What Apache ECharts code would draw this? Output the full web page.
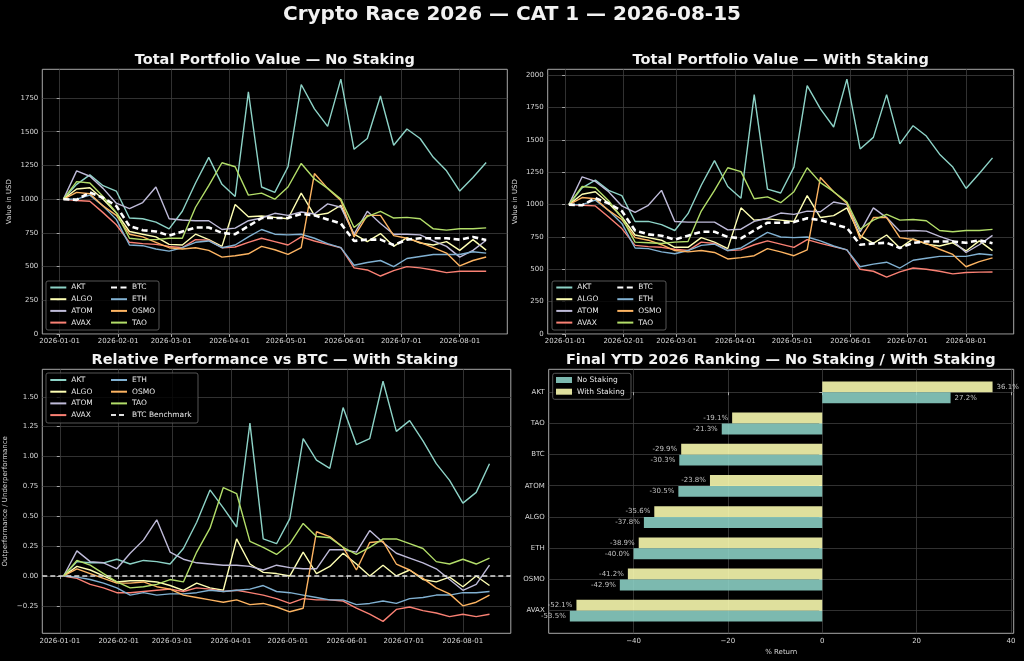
<!DOCTYPE html>
<html><head><meta charset="utf-8">
<script src="https://cdn.jsdelivr.net/npm/echarts@6/dist/echarts.min.js"></script>
<style>html,body{margin:0;padding:0;background:#000;}#c{width:1024px;height:661px;}</style>
</head><body><div id="c"></div>
<script>
// ---------- DATA ----------
const dates = ['2026-01-03','2026-01-10','2026-01-17','2026-01-24','2026-01-31','2026-02-07','2026-02-14','2026-02-21','2026-02-28','2026-03-07','2026-03-14','2026-03-21','2026-03-28','2026-04-04','2026-04-11','2026-04-18','2026-04-25','2026-05-02','2026-05-09','2026-05-16','2026-05-23','2026-05-30','2026-06-06','2026-06-13','2026-06-20','2026-06-27','2026-07-04','2026-07-11','2026-07-18','2026-07-25','2026-08-01','2026-08-08','2026-08-15'];
const monthTicks = ['2026-01-01','2026-02-01','2026-03-01','2026-04-01','2026-05-01','2026-06-01','2026-07-01','2026-08-01'];
const assets = ['AKT','ALGO','ATOM','AVAX','BTC','ETH','OSMO','TAO'];

// Total portfolio value - no staking (USD)
const AKT_NS  = [1000,1110,1180,1100,1060,860,855,830,780,910,1120,1310,1110,1020,1795,1090,1050,1240,1850,1670,1540,1890,1370,1450,1765,1400,1520,1450,1310,1210,1060,1160,1272];
const ALGO_NS = [1000,1075,1085,1000,900,760,740,720,665,660,740,700,650,960,870,875,865,855,1045,880,895,955,740,685,745,650,715,675,660,685,620,700,622];
const ATOM_NS = [1000,1210,1170,1080,970,930,975,1090,855,845,840,840,775,785,840,860,895,880,905,890,965,940,740,910,820,740,740,735,690,650,570,620,695];
const AVAX_NS = [1000,990,985,900,810,680,670,665,650,640,700,695,640,645,680,710,685,660,720,690,665,640,490,475,430,470,500,490,475,455,465,465,465];
const BTC_NS  = [1000,995,1050,1010,950,800,770,760,730,760,790,790,750,740,800,860,860,860,890,880,850,820,690,700,700,660,700,710,710,710,700,720,697];
const ETH_NS  = [1000,1000,1030,950,850,660,655,630,615,640,680,690,640,660,720,775,740,735,740,710,670,640,510,530,545,500,560,575,590,590,590,610,600];
const OSMO_NS = [1000,1050,1040,950,880,740,720,680,640,630,640,620,570,580,595,650,625,590,640,1190,1080,990,720,880,880,730,710,680,640,600,505,545,571];
const TAO_NS  = [1000,1130,1120,1020,900,710,700,700,710,710,940,1100,1270,1240,1030,1045,1000,1090,1265,1150,1080,1000,790,870,910,860,865,855,780,770,780,780,787];

// Total portfolio value - with staking (USD)
const AKT_WS  = [1000,1130,1190,1110,1070,870,870,845,800,930,1150,1340,1140,1050,1850,1120,1090,1290,1920,1740,1600,1970,1430,1520,1850,1470,1610,1530,1390,1290,1125,1240,1361];
const ALGO_WS = [1000,1080,1100,1010,905,765,745,725,670,670,745,710,660,975,880,890,880,870,1070,900,915,975,760,700,765,665,735,695,680,705,642,720,644];
const ATOM_WS = [1000,1215,1180,1100,990,940,995,1110,870,865,865,865,805,810,870,895,935,925,950,945,1020,1000,790,975,900,795,800,795,755,720,630,690,762];
const AVAX_WS = [1000,995,990,905,815,685,675,670,655,645,710,700,645,650,690,720,695,670,730,700,675,650,500,485,440,480,510,500,485,465,475,478,479];
const BTC_WS  = [1000,995,1050,1010,950,800,770,760,730,760,790,790,750,740,800,860,860,865,895,880,850,820,690,700,705,665,705,715,715,715,705,725,701];
const ETH_WS  = [1000,1000,1035,955,855,665,660,635,620,645,685,695,645,665,725,785,750,745,750,720,680,650,520,540,555,510,570,585,600,600,600,620,611];
const OSMO_WS = [1000,1055,1045,955,885,745,725,690,645,635,645,630,580,590,605,660,635,605,650,1210,1100,1010,735,900,900,745,730,700,655,615,520,560,588];
const TAO_WS  = [1000,1140,1130,1030,900,710,705,700,710,715,950,1110,1285,1255,1045,1060,1015,1100,1285,1170,1100,1020,810,880,925,880,885,875,800,790,800,800,809];

// Relative performance vs BTC - with staking
const AKT_REL  = [0,0.12,0.11,0.11,0.14,0.10,0.13,0.12,0.10,0.23,0.45,0.72,0.57,0.41,1.28,0.31,0.27,0.48,1.15,0.97,0.90,1.41,1.10,1.15,1.63,1.21,1.30,1.13,0.94,0.80,0.61,0.70,0.94];
const ALGO_REL = [0,0.08,0.05,0.00,-0.05,-0.04,-0.04,-0.05,-0.08,-0.12,-0.06,-0.10,-0.12,0.31,0.10,0.03,0.02,0.00,0.20,0.02,0.08,0.19,0.10,0.00,0.09,0.00,0.05,-0.03,-0.05,-0.01,-0.09,0.00,-0.08];
const ATOM_REL = [0,0.21,0.12,0.11,0.06,0.19,0.30,0.47,0.20,0.14,0.11,0.10,0.09,0.09,0.08,0.05,0.09,0.07,0.06,0.06,0.22,0.22,0.20,0.38,0.28,0.19,0.15,0.11,0.06,-0.03,-0.12,-0.07,0.09];
const AVAX_REL = [0,-0.02,-0.07,-0.10,-0.14,-0.14,-0.13,-0.12,-0.11,-0.13,-0.10,-0.11,-0.13,-0.12,-0.14,-0.16,-0.19,-0.23,-0.19,-0.20,-0.20,-0.21,-0.27,-0.32,-0.38,-0.28,-0.26,-0.29,-0.31,-0.34,-0.32,-0.34,-0.32];
const ETH_REL  = [0,-0.01,-0.03,-0.06,-0.10,-0.16,-0.14,-0.16,-0.15,-0.15,-0.14,-0.12,-0.13,-0.12,-0.11,-0.08,-0.13,-0.14,-0.16,-0.18,-0.20,-0.20,-0.24,-0.23,-0.21,-0.23,-0.19,-0.18,-0.16,-0.16,-0.14,-0.14,-0.13];
const OSMO_REL = [0,0.06,0.02,-0.02,-0.06,-0.06,-0.05,-0.09,-0.11,-0.16,-0.18,-0.20,-0.22,-0.20,-0.24,-0.23,-0.26,-0.30,-0.27,0.37,0.33,0.24,0.05,0.28,0.29,0.10,0.05,-0.02,-0.10,-0.15,-0.25,-0.22,-0.16];
const TAO_REL  = [0,0.13,0.09,0.02,-0.05,-0.10,-0.09,-0.07,-0.03,-0.05,0.20,0.40,0.74,0.69,0.29,0.24,0.18,0.27,0.44,0.33,0.32,0.24,0.18,0.24,0.31,0.31,0.27,0.23,0.12,0.10,0.14,0.10,0.15];
const BENCHMARK = 0;

// Final YTD ranking (% return)
const rankCats = ['AKT','TAO','BTC','ATOM','ALGO','ETH','OSMO','AVAX'];
const rankNoStaking   = [27.2,-21.3,-30.3,-30.5,-37.8,-40.0,-42.9,-53.5];
const rankWithStaking = [36.1,-19.1,-29.9,-23.8,-35.6,-38.9,-41.2,-52.1];

const valueTicksNS = [0,250,500,750,1000,1250,1500,1750];
const valueTicksWS = [0,250,500,750,1000,1250,1500,1750,2000];
const relTicks = [-0.25,0,0.25,0.5,0.75,1,1.25,1.5];
const pctTicks = [-40,-20,0,20,40];

// ---------- STYLE ----------
const FONT = 'DejaVu Sans';
const TXT = '#d8d8d8';
const SPINE = '#a8a8a8';
const GRIDC = '#3d3d3d';
const colors = {AKT:'#8dd3c7',ALGO:'#feffb3',ATOM:'#bfbbd9',AVAX:'#fa8174',BTC:'#ffffff',ETH:'#81b1d2',OSMO:'#fdb462',TAO:'#b3de69'};

const NS = {AKT:AKT_NS,ALGO:ALGO_NS,ATOM:ATOM_NS,AVAX:AVAX_NS,BTC:BTC_NS,ETH:ETH_NS,OSMO:OSMO_NS,TAO:TAO_NS};
const WS = {AKT:AKT_WS,ALGO:ALGO_WS,ATOM:ATOM_WS,AVAX:AVAX_WS,BTC:BTC_WS,ETH:ETH_WS,OSMO:OSMO_WS,TAO:TAO_WS};
const REL = {AKT:AKT_REL,ALGO:ALGO_REL,ATOM:ATOM_REL,AVAX:AVAX_REL,ETH:ETH_REL,OSMO:OSMO_REL,TAO:TAO_REL};

const t0 = Date.parse('2026-01-01');
const dayOf = s => (Date.parse(s) - t0) / 86400000;
const xDays = dates.map(dayOf);
const tickDays = monthTicks.map(dayOf);
const span = xDays[xDays.length-1] - xDays[0];
const xMin = xDays[0] - 0.05*span, xMax = xDays[xDays.length-1] + 0.05*span;
const minus = s => String(s).replace('-', '\u2212');

const grids = [
  {left:42.3, top:69.3, width:465, height:264.7},
  {left:547.7, top:69.3, width:466, height:264.7},
  {left:42.3, top:369.3, width:468.5, height:264},
  {left:548.7, top:376.7, width:465, height:249.6},  // bars (category band)
  {left:548.7, top:369.3, width:465, height:264}     // bar frame / axes
].map(g => Object.assign({containLabel:false, show:false, borderColor:SPINE, borderWidth:1}, g));
[0,1,2,4].forEach(i => grids[i].show = true);

const lab = (extra) => Object.assign({fontFamily:FONT, fontSize:7, color:TXT}, extra||{});
function timeX(gi){
  return {type:'value', gridIndex:gi, min:xMin, max:xMax,
    axisLine:{show:false},
    axisTick:{show:true, customValues:tickDays, length:3, lineStyle:{color:SPINE}},
    axisLabel:lab({customValues:tickDays, margin:4, formatter:v => { const i = tickDays.findIndex(d => Math.abs(d-v) < 0.01); return i>=0 ? monthTicks[i] : ''; }}),
    splitLine:{show:true, lineStyle:{color:GRIDC, width:0.8}}};
}
function valY(gi, min, max, ticks, fmt, name, gap){
  return {type:'value', gridIndex:gi, min:min, max:max,
    name:name, nameLocation:'middle', nameGap:gap, nameRotate:90,
    nameTextStyle:{fontFamily:FONT, fontSize:7, color:TXT},
    axisLine:{show:false},
    axisTick:{show:true, customValues:ticks, length:3, lineStyle:{color:SPINE}},
    axisLabel:lab({customValues:ticks, margin:4, formatter:fmt}),
    splitLine:{show:true, lineStyle:{color:GRIDC, width:0.8}}};
}

const xAxes = [timeX(0), timeX(1), timeX(2),
  {type:'value', gridIndex:3, min:-57.98, max:40.58, show:false},
  {type:'value', gridIndex:4, min:-57.98, max:40.58,
    name:'% Return', nameLocation:'middle', nameGap:15, nameTextStyle:{fontFamily:FONT, fontSize:7, color:TXT},
    axisLine:{show:false},
    axisTick:{show:true, customValues:pctTicks, length:3, lineStyle:{color:SPINE}},
    axisLabel:lab({customValues:pctTicks, margin:4, formatter:v => minus(v)}),
    splitLine:{show:true, lineStyle:{color:GRIDC, width:0.8}}}
];
const yAxes = [
  valY(0, 0, 1963, valueTicksNS, v => String(v), 'Value in USD', 30),
  valY(1, 0, 2046, valueTicksWS, v => String(v), 'Value in USD', 29.5),
  valY(2, -0.48, 1.73, relTicks, v => minus(v.toFixed(2)), 'Outperformance / Underperformance', 34),
  {type:'category', gridIndex:3, data:rankCats, inverse:true, show:false},
  {type:'value', gridIndex:4, min:-0.735, max:7.735, inverse:true,
    axisLine:{show:false},
    axisTick:{show:true, customValues:[0,1,2,3,4,5,6,7], length:3, lineStyle:{color:SPINE}},
    axisLabel:lab({customValues:[0,1,2,3,4,5,6,7], margin:4, formatter:v => rankCats[Math.round(v)]}),
    splitLine:{show:true, lineStyle:{color:GRIDC, width:0.8}}}
];

const series = [];
function lineSeries(name, vals, gi, isBtc){
  series.push({type:'line', name:name, xAxisIndex:gi, yAxisIndex:gi, symbol:'none', silent:true,
    z: isBtc ? 4 : 2,
    data: vals.map((v,i) => [xDays[i], v]),
    lineStyle: isBtc ? {color:'#ffffff', width:2.6, type:[6,3.5]} : {color:colors[name], width:1.4},
    itemStyle:{color:colors[name]}});
}
assets.forEach(a => lineSeries(a, NS[a], 0, a==='BTC'));
assets.forEach(a => lineSeries(a, WS[a], 1, a==='BTC'));
Object.keys(REL).forEach(a => lineSeries(a, REL[a], 2, false));
series.push({type:'line', name:'BTC Benchmark', xAxisIndex:2, yAxisIndex:2, symbol:'none', silent:true, z:3,
  data:[[xMin, BENCHMARK],[xMax, BENCHMARK]],
  lineStyle:{color:'#e0e0e0', width:1.5, type:[5,3]}, itemStyle:{color:'#e0e0e0'}});

const barLabel = (v) => ({show:true, position: v >= 0 ? 'right' : 'left', distance:4,
  fontFamily:FONT, fontSize:7, color:'#dddddd', formatter:p => p.value.toFixed(1) + '%'});
series.push({type:'bar', name:'With Staking', xAxisIndex:3, yAxisIndex:3, barWidth:'35%', barGap:'0%', silent:true,
  itemStyle:{color:'#feffb3', opacity:0.88},
  data: rankWithStaking.map(v => ({value:v, label:barLabel(v)}))});
series.push({type:'bar', name:'No Staking', xAxisIndex:3, yAxisIndex:3, barWidth:'35%', barGap:'0%', silent:true,
  itemStyle:{color:'#8dd3c7', opacity:0.88},
  data: rankNoStaking.map(v => ({value:v, label:barLabel(v)}))});

function legend(names, left, top, icon, ih){
  const l = {orient:'vertical', left:left, top:top, padding:0, itemGap:1.7, itemWidth:16, itemHeight:ih||10,
    selectedMode:false, z:10,
    textStyle:{fontFamily:FONT, fontSize:7.5, color:'#e8e8e8', lineHeight:10},
    data:names};
  if (icon) l.icon = icon; else l.itemStyle = {opacity:0};
  return l;
}
const legends = [
  legend(['AKT','ALGO','ATOM','AVAX'], 49.3, 282.5),
  legend(['BTC','ETH','OSMO','TAO'], 110, 282.5),
  legend(['AKT','ALGO','ATOM','AVAX'], 555.3, 282.5),
  legend(['BTC','ETH','OSMO','TAO'], 616.3, 282.5),
  legend(['AKT','ALGO','ATOM','AVAX'], 49.3, 375),
  legend(['ETH','OSMO','TAO','BTC Benchmark'], 110, 375),
  legend(['No Staking','With Staking'], 556, 375, 'rect', 6)
];
legends[6].textStyle.lineHeight = 10;

const frame = (x,y,w,h) => ({type:'rect', z:3, shape:{x:x,y:y,width:w,height:h,r:2},
  style:{fill:'rgba(0,0,0,0.8)', stroke:'#6a6a6a', lineWidth:0.8}});

const titles = [
  {text:'Crypto Race 2026 \u2014 CAT 1 \u2014 2026-08-15', left:512, top:4.5, textAlign:'center',
    textStyle:{fontFamily:FONT, fontSize:20, fontWeight:'bold', color:'#f2f2f2'}},
  {text:'Total Portfolio Value \u2014 No Staking', left:274.8, top:53, textAlign:'center',
    textStyle:{fontFamily:FONT, fontSize:14.5, fontWeight:'bold', color:'#f2f2f2'}},
  {text:'Total Portfolio Value \u2014 With Staking', left:780.7, top:53, textAlign:'center',
    textStyle:{fontFamily:FONT, fontSize:14.5, fontWeight:'bold', color:'#f2f2f2'}},
  {text:'Relative Performance vs BTC \u2014 With Staking', left:275, top:352.5, textAlign:'center',
    textStyle:{fontFamily:FONT, fontSize:14.5, fontWeight:'bold', color:'#f2f2f2'}},
  {text:'Final YTD 2026 Ranking \u2014 No Staking / With Staking', left:780.8, top:352.5, textAlign:'center',
    textStyle:{fontFamily:FONT, fontSize:14.5, fontWeight:'bold', color:'#f2f2f2'}}
];
titles.forEach(t => t.padding = 0);

const chart = echarts.init(document.getElementById('c'), null, {renderer:'canvas'});
chart.setOption({
  backgroundColor:'#000000',
  animation:false,
  title:titles,
  grid:grids,
  xAxis:xAxes,
  yAxis:yAxes,
  legend:legends,
  graphic:[frame(46,281,113,49), frame(552,281,114,49), frame(46,373,152,50), frame(552.7,373.3,78.3,26)],
  series:series
});
</script></body></html>
